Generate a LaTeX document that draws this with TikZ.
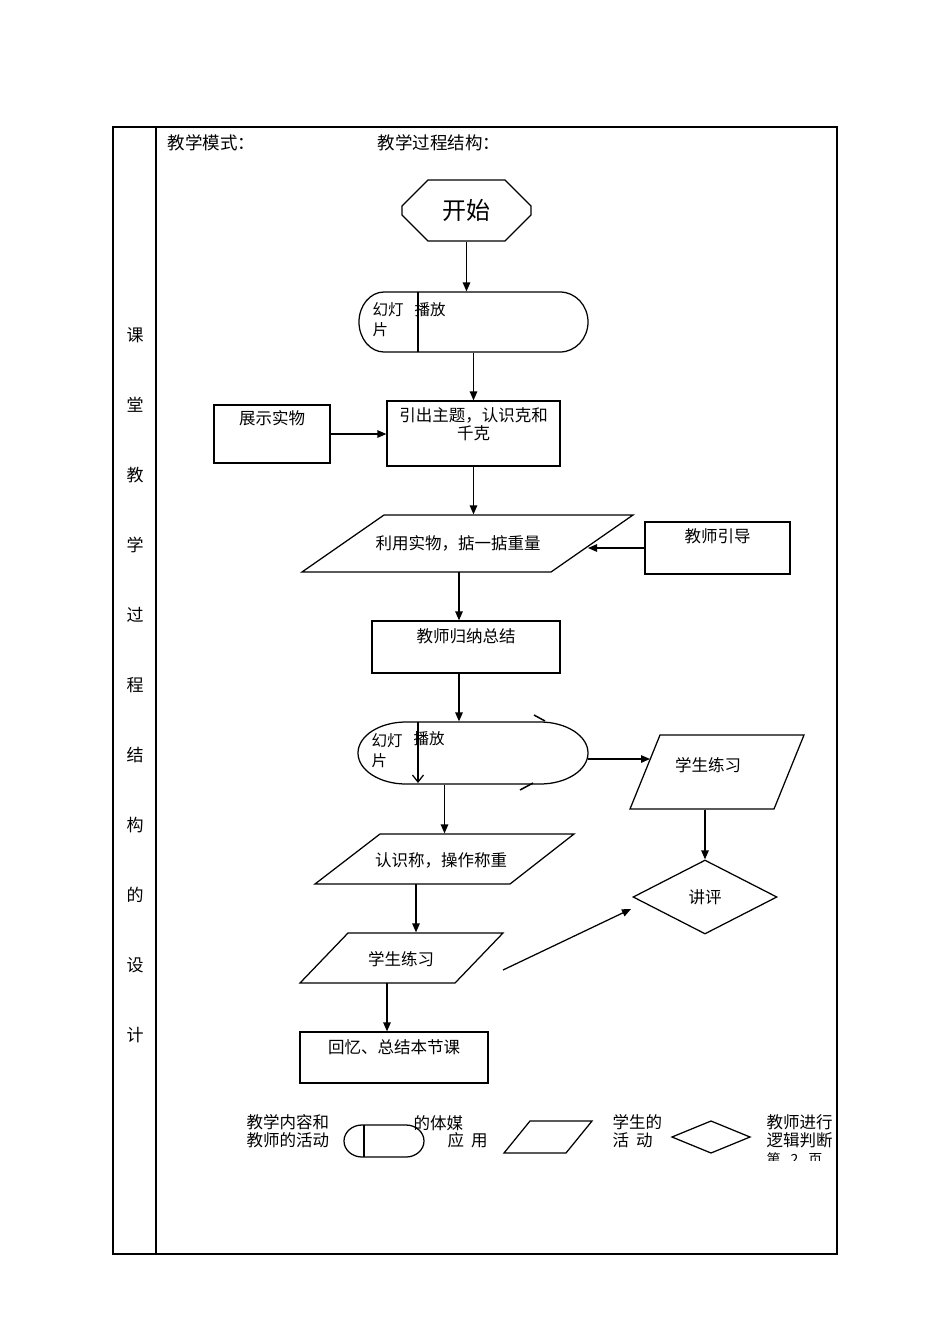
\documentclass[tikz,border=0pt]{standalone}
\usepackage{fontspec}
\setmainfont{Noto Sans CJK SC}
\usetikzlibrary{shapes.geometric, shapes.misc, arrows.meta, positioning}

\begin{document}
\begin{tikzpicture}[x=1pt, y=-1pt, line width=1.25pt,
  box/.style={draw, rectangle, inner sep=0pt},
  ghost/.style={rectangle, inner sep=0pt},
  txt/.style={inner sep=0pt, font=\fontsize{16.5}{18}\selectfont},
  sml/.style={inner sep=0pt, align=left, font=\fontsize{15.5}{20}\selectfont},
  arr/.style={-{Triangle[length=9pt,width=7.5pt]}}]
  \useasboundingbox (0,0) rectangle (950,1344);

  % 表格外框
  \draw (113,127) rectangle (837,1254);
  \draw (156,127) -- (156,1254);
  \foreach \ch [count=\i from 0] in {课,堂,教,学,过,程,结,构,的,设,计}
    \node[txt, font=\fontsize{17}{17}\selectfont] (col\i) at (135,335+70*\i) {\ch};

  % 标题
  \node[txt, anchor=west, font=\fontsize{17.5}{18}\selectfont] (mode) at (167,143) {教学模式：};
  \node[txt, anchor=west, font=\fontsize{17.5}{18}\selectfont] (struct) at (377,143) {教学过程结构：};

  % 开始
  \node[draw, chamfered rectangle, chamfered rectangle xsep=15pt, chamfered rectangle ysep=15pt,
    minimum width=129pt, minimum height=61pt, inner sep=0pt, font=\fontsize{24}{24}\selectfont]
    (start) at (466.5,210.5) {开始};

  % 幻灯片播放（一）
  \draw (384,292) -- (560,292) arc[start angle=-90, end angle=90, x radius=28, y radius=30]
    -- (384,352) arc[start angle=90, end angle=270, x radius=25, y radius=30] -- cycle;
  \draw (418,292) -- (418,352);
  \node[ghost, minimum width=229pt, minimum height=60pt] (slide1) at (473.5,322) {};
  \node[sml, anchor=north west] (slide1a) at (372,302) {幻灯\\片};
  \node[sml, anchor=north west] (slide1b) at (414,302) {播放};
  \draw[arr] (start.south) -- (start.south |- slide1.north);

  % 展示实物 / 引出主题
  \node[box, minimum width=116pt, minimum height=58pt] (show) at (272,434) {};
  \node[txt, below=6pt of show.north] (showt) {展示实物};
  \node[box, minimum width=173pt, minimum height=65pt] (intro) at (473.5,433.5) {};
  \node[txt, align=center, below=7pt of intro.north] (introt) {引出主题，认识克和\\千克};
  \draw[arr] (intro.north |- slide1.south) -- (intro.north);
  \draw[arr] (show.east) -- (show.east -| intro.west);

  % 利用实物，掂一掂重量
  \draw (384,515) -- (633,515) -- (551,572) -- (302,572) -- cycle;
  \node[ghost, minimum width=331pt, minimum height=57pt] (use) at (467.5,543.5) {};
  \node[txt] (uset) at (458,543) {利用实物，掂一掂重量};
  \coordinate (usee) at (588,548);
  \coordinate (uses) at (459,572);
  \draw[arr] (intro.south) -- (intro.south |- use.north);

  % 教师引导
  \node[box, minimum width=145pt, minimum height=52pt] (guide) at (717.5,548) {};
  \node[txt, below=7pt of guide.north] (guidet) {教师引导};
  \draw[arr] (guide.west) -- (usee);

  % 教师归纳总结
  \node[box, minimum width=188pt, minimum height=52pt] (sum) at (466,647) {};
  \node[txt, below=8pt of sum.north] (sumt) {教师归纳总结};
  \draw[arr] (uses) -- (uses |- sum.north);

  % 幻灯片播放（二）
  \draw (406,722) -- (540,722) arc[start angle=-90, end angle=90, x radius=48, y radius=31]
    -- (406,784) arc[start angle=90, end angle=270, x radius=48, y radius=31] -- cycle;
  \draw[line width=1.5pt] (534,715) -- (545,721);
  \draw[line width=1.5pt] (520,790) -- (533,783);
  \draw[-{Straight Barb[length=7pt,width=11pt]}] (418,722) -- (418,783);
  \node[ghost, minimum width=230pt, minimum height=62pt] (slide2) at (473,753) {};
  \node[sml, anchor=north west] (slide2a) at (371,733) {幻灯\\片};
  \node[sml, anchor=north west] (slide2b) at (413,731) {播放};
  \draw[arr] (uses |- sum.south) -- (uses |- slide2.north);
  \coordinate (s2e) at (588,759);

  % 学生练习（右）
  \draw (660,735) -- (804,735) -- (774,809) -- (630,809) -- cycle;
  \node[ghost, minimum width=174pt, minimum height=74pt] (prc) at (717,772) {};
  \node[txt] (prct) at (708,765) {学生练习};
  \coordinate (prcw) at (650,759);
  \draw[arr] (s2e) -- (prcw);

  % 讲评
  \node[draw, diamond, minimum width=144pt, minimum height=74pt, inner sep=0pt,
    font=\fontsize{16.5}{18}\selectfont] (rev) at (705,897) {讲评};
  \draw[arr] (rev.north |- prc.south) -- (rev.north);

  % 认识称，操作称重
  \draw (380,834) -- (574,834) -- (510,884) -- (315,884) -- cycle;
  \node[ghost, minimum width=259pt, minimum height=50pt] (rec) at (444.5,859) {};
  \node[txt] (rect) at (441,860) {认识称，操作称重};
  \coordinate (recs) at (416,884);
  \draw[arr] (rec.north |- slide2.south) -- (rec.north);

  % 学生练习（左）
  \draw (348,933) -- (503,933) -- (455,983) -- (300,983) -- cycle;
  \node[ghost, minimum width=203pt, minimum height=50pt] (prl) at (401.5,958) {};
  \node[txt] (prlt) at (401,959) {学生练习};
  \coordinate (prls) at (387,983);
  \draw[arr] (recs) -- (recs |- prl.north);
  \coordinate (dgA) at (503,970);
  \coordinate (dgB) at (631,909);
  \draw[arr] (dgA) -- (dgB);

  % 回忆、总结本节课
  \node[box, minimum width=188pt, minimum height=51pt] (recap) at (394,1057.5) {};
  \node[txt, below=8pt of recap.north] (recapt) {回忆、总结本节课};
  \draw[arr] (prls) -- (prls |- recap.north);

  % 图例
  \node[txt, align=left, anchor=west] (lg1) at (246,1131.5) {教学内容和\\教师的活动};
  \draw (362,1125) -- (406,1125) arc[start angle=-90, end angle=90, x radius=18, y radius=16]
    -- (362,1157) arc[start angle=90, end angle=270, x radius=18, y radius=16] -- cycle;
  \draw (364,1125) -- (364,1157);
  \node[txt, anchor=west] (lg2a) at (413,1123) {的体媒};
  \node[txt, anchor=west] (lg2b) at (447,1140) {应\hspace{7pt}用};
  \draw (530,1121) -- (592,1121) -- (566,1153) -- (504,1153) -- cycle;
  \node[txt, align=left, anchor=west] (lg3) at (612,1131.5) {学生的\\活\hspace{7pt}动};
  \draw (672,1137) -- (711,1121) -- (750,1137) -- (711,1153) -- cycle;
  \node[txt, align=left, anchor=west] (lg4) at (766,1131.5) {教师进行\\逻辑判断};
  \begin{scope}
    \clip (760,1150) rectangle (840,1160);
    \node[txt, anchor=west, font=\fontsize{14}{14}\selectfont] (pg) at (766,1159) {第\hspace{10pt}2\hspace{10pt}页};
  \end{scope}

\end{tikzpicture}
\end{document}
